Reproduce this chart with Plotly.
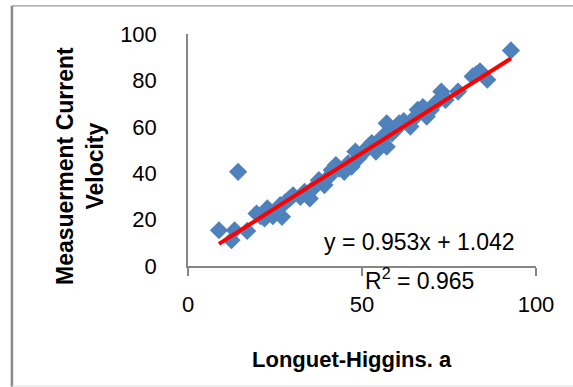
import plotly.graph_objects as go

# Data
longuet_higgins = [8.9, 13.4, 12.5, 14.4, 17.0, 19.7, 22.0, 22.8, 24.4, 27.0, 26.5, 29.2,
                   30.2, 32.3, 35.0, 37.6, 39.2, 41.3, 43.4, 44.9, 47.0, 48.1, 50.2, 51.8,
                   54.0, 55.5, 57.1, 57.1, 58.6, 60.7, 63.9, 66.0, 68.6, 69.8, 72.8, 74.0,
                   77.6, 81.8, 83.9, 86.0, 92.8,
                   20.8, 25.5, 28.0, 33.5, 36.2, 40.5, 42.5, 46.0, 49.0, 52.8, 56.0, 59.5,
                   62.0, 65.0, 67.5, 71.0, 73.5, 82.8]
measured_velocity = [15.4, 15.4, 11.1, 40.6, 15.1, 22.6, 20.5, 24.8, 21.5, 21.2, 26.2, 29.1,
                     30.5, 29.8, 29.1, 37.0, 34.9, 41.4, 42.0, 40.6, 42.8, 49.3, 48.6, 51.4,
                     49.3, 54.3, 61.5, 51.4, 57.2, 61.5, 60.1, 67.3, 64.4, 67.3, 75.2, 71.6,
                     75.2, 81.7, 83.9, 80.3, 92.9,
                     21.5, 24.0, 27.5, 32.0, 33.8, 38.5, 43.5, 44.2, 46.5, 53.0, 55.8, 58.5,
                     62.5, 63.8, 68.5, 70.0, 73.0, 82.6]
slope = 0.953
intercept = 1.042
r_squared = 0.965
x_ticks = [0, 50, 100]
y_ticks = [0, 20, 40, 60, 80, 100]

trend_x = [min(longuet_higgins), max(longuet_higgins)]
trend_y = [slope * v + intercept for v in trend_x]

fig = go.Figure()
fig.add_trace(go.Scatter(
    x=longuet_higgins, y=measured_velocity, mode="markers",
    marker=dict(symbol="diamond", size=14, color="#4F81BD", line=dict(width=0)),
    showlegend=False, hoverinfo="skip"))
fig.add_trace(go.Scatter(
    x=trend_x, y=trend_y, mode="lines",
    line=dict(color="#FF0000", width=4), showlegend=False, hoverinfo="skip"))

font_family = "Liberation Sans, Arial, sans-serif"

fig.update_layout(
    width=573, height=387,
    margin=dict(l=188, r=37, t=34, b=121),
    paper_bgcolor="white", plot_bgcolor="white",
    font=dict(family=font_family, color="black", size=22),
    xaxis=dict(range=[0, 100], tickvals=x_ticks, showgrid=False, zeroline=False,
               showline=True, linecolor="#868686", linewidth=1.5,
               ticks="outside", ticklen=8, tickcolor="#868686", tickwidth=1.5,
               ticklabelstandoff=10, tickfont=dict(size=22)),
    yaxis=dict(range=[0, 100], tickvals=y_ticks, showgrid=False, zeroline=False,
               showline=True, linecolor="#868686", linewidth=1.5,
               ticks="", ticklabelstandoff=25, tickfont=dict(size=22)),
    shapes=[
        dict(type="line", xref="paper", yref="paper", x0=-0.506, x1=1.12, y0=1.121, y1=1.121,
             line=dict(color="#999999", width=1.2)),
        dict(type="line", xref="paper", yref="paper", x0=-0.506, x1=-0.506, y0=-0.52, y1=1.121,
             line=dict(color="#8a8a8a", width=2.5)),
        dict(type="line", xref="paper", yref="paper", x0=-0.506, x1=1.12, y0=-0.517, y1=-0.517,
             line=dict(color="#dddddd", width=1)),
    ],
    annotations=[
        dict(text=f"y = {slope}x + {intercept}", xref="paper", yref="paper",
             x=(419 - 188) / 348, y=(266 - 242) / 232, showarrow=False,
             xanchor="center", yanchor="middle", font=dict(size=23)),
        dict(text=f"R<sup>2</sup> = {r_squared}", xref="paper", yref="paper",
             x=(419 - 188) / 348, y=(266 - 279) / 232, showarrow=False,
             xanchor="center", yanchor="middle", font=dict(size=23)),
        dict(text="<b>Longuet-Higgins. a</b>", xref="paper", yref="paper",
             x=(352 - 188) / 348, y=(266 - 359) / 232, showarrow=False,
             xanchor="center", yanchor="middle", font=dict(size=22)),
        dict(text="<b>Measuerment Current<br>Velocity</b>", xref="paper", yref="paper",
             x=(80 - 188) / 348, y=(266 - 166) / 232, showarrow=False, textangle=-90,
             xanchor="center", yanchor="middle", font=dict(size=23)),
    ],
)

fig.write_html("out.html")
